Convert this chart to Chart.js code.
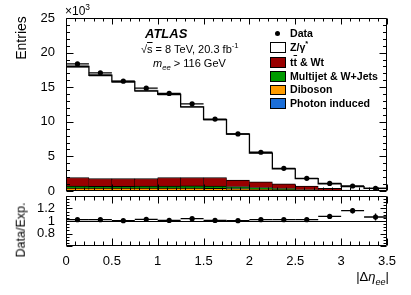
<!DOCTYPE html>
<html><head><meta charset="utf-8">
<script src="https://cdn.jsdelivr.net/npm/chart.js@4.4.0/dist/chart.umd.min.js"></script>
<style>
html,body{margin:0;padding:0;background:#fff;}
#wrap{position:relative;width:411px;height:295px;overflow:hidden;font-family:'Liberation Sans',Arial,Helvetica,sans-serif;color:#000;}
canvas{position:absolute;left:0;top:0;}
.t{position:absolute;white-space:nowrap;line-height:1;}
.t sup,.t sub{font-size:70%;line-height:0;}
.rot{position:absolute;white-space:nowrap;line-height:1;transform:translate(-50%,-50%) rotate(-90deg);}
.box{position:absolute;width:16px;height:10.5px;border:1px solid #000;box-sizing:border-box;}
.lg{position:absolute;font-weight:bold;font-size:10.6px;line-height:1;white-space:nowrap;}
</style></head><body>
<div id="wrap">
<canvas id="main" width="411" height="295"></canvas>
<canvas id="ratio" width="411" height="295"></canvas>

<div class="t" style="left:65px;top:5px;font-size:12px;">×10<sup>3</sup></div>
<div class="rot" style="left:21px;top:38px;font-size:14px;">Entries</div>
<div class="rot" style="left:21px;top:230px;font-size:12.5px;">Data/Exp.</div>
<div class="t" style="left:145px;top:26.5px;font-size:13px;font-weight:bold;font-style:italic;">ATLAS</div>
<div class="t" style="left:141px;top:44px;font-size:11px;">√<span style="text-decoration:overline">s</span> = 8 TeV, 20.3 fb<sup>-1</sup></div>
<div class="t" style="left:153px;top:58px;font-size:11px;"><i>m</i><sub><i>ee</i></sub> &gt; 116 GeV</div>
<div class="t" style="right:22px;top:270px;font-size:13px;">|Δ<i>η</i><sub><i>ee</i></sub>|</div>

<div id="legend"></div>
</div>
<script>
// ---------------- data ----------------
const binEdges = [0, 0.25, 0.5, 0.75, 1, 1.25, 1.5, 1.75, 2, 2.25, 2.5, 2.75, 3, 3.25, 3.5];
const dataCounts = [18370, 17080, 15870, 14860, 14100, 12600, 10400, 8250, 5600, 3270, 1830, 1100, 720, 390];
const dataErr    = [136, 131, 126, 122, 119, 112, 102, 91, 75, 57, 43, 33, 27, 20];
const zGamma        = [16040, 14930, 13990, 12670, 12010, 10200, 8350, 6630, 4140, 2150, 1070, 630, 470, 230];
const ttbarWt       = [1230, 1115, 1115, 1105, 1225, 1220, 1235, 945, 845, 705, 555, 305, 105, 110];
const multijetWJets = [290, 280, 280, 290, 310, 320, 330, 290, 220, 140, 40, 20, 10, 10];
const diboson       = [350, 330, 330, 330, 340, 340, 320, 290, 230, 170, 100, 50, 25, 15];
const photonInduced = [80, 75, 75, 75, 75, 70, 65, 55, 45, 35, 25, 15, 10, 5];
const mcTotal       = [17990, 16730, 15790, 14470, 13960, 12150, 10300, 8210, 5480, 3200, 1790, 1020, 620, 370];
const mcUnc         = [200, 185, 175, 160, 155, 135, 115, 92, 62, 36, 20, 12, 8, 5];
const ratioValues = [1.021, 1.021, 1.005, 1.027, 1.01, 1.037, 1.01, 1.005, 1.021, 1.021, 1.021, 1.074, 1.165, 1.064];
const ratioErr    = [0.008, 0.008, 0.008, 0.009, 0.009, 0.01, 0.011, 0.012, 0.015, 0.019, 0.025, 0.033, 0.045, 0.055];
const yTickLabelsMain = ['0','5','10','15','20','25'];
const seriesNames = ['Data', 'Z/γ*', 'tt̄ & Wt', 'Multijet & W+Jets', 'Diboson', 'Photon induced'];
const seriesColors = ['#000000', '#ffffff', '#990000', '#009a00', '#ff9c00', '#1b6ed8'];

// ---------------- helpers ----------------
const FONT = "'Liberation Sans', Arial, Helvetica, sans-serif";
const centers = binEdges.slice(0, -1).map((e, i) => (e + binEdges[i + 1]) / 2);
const halfW = binEdges.slice(0, -1).map((e, i) => (binEdges[i + 1] - e) / 2);
const stepPts = arr => binEdges.map((e, i) => ({x: e, y: arr[Math.min(i, arr.length - 1)]}));
const binPts = arr => centers.map((c, i) => ({x: c, y: arr[i]}));

const frame = {
  id: 'rootFrame',
  afterDraw(chart, args, o) {
    const {ctx, chartArea: a} = chart;
    const xs = chart.scales[o.x], ys = chart.scales[o.y];
    ctx.save();
    ctx.strokeStyle = '#000'; ctx.lineWidth = 1;
    const L = Math.round(a.left) + 0.5, R = Math.round(a.right) - 0.5, T = Math.round(a.top) + 0.5, B = Math.round(a.bottom) - 0.5;
    ctx.beginPath();
    ctx.rect(L, T, R - L, B - T);
    let n = Math.round((xs.max - xs.min) / o.xMinor);
    for (let i = 0; i <= n; i++) {
      const v = xs.min + i * o.xMinor;
      const maj = Math.abs(v / o.xMajor - Math.round(v / o.xMajor)) < 1e-6;
      const len = maj ? o.xMajLen : o.xMinLen;
      const px = Math.round(xs.getPixelForValue(v)) + 0.5;
      ctx.moveTo(px, B); ctx.lineTo(px, B - len);
      ctx.moveTo(px, T); ctx.lineTo(px, T + len);
    }
    n = Math.round((ys.max - ys.min) / o.yMinor);
    for (let i = 0; i <= n; i++) {
      const v = ys.min + i * o.yMinor;
      const maj = Math.abs(v / o.yMajor - Math.round(v / o.yMajor)) < 1e-6;
      const len = maj ? o.yMajLen : o.yMinLen;
      const py = Math.round(ys.getPixelForValue(v)) + 0.5;
      ctx.moveTo(L, py); ctx.lineTo(L + len, py);
      ctx.moveTo(R, py); ctx.lineTo(R - len, py);
    }
    ctx.stroke();
    if (o.refLine !== undefined) {
      const py = Math.round(ys.getPixelForValue(o.refLine)) + 0.5;
      ctx.beginPath(); ctx.moveTo(L, py); ctx.lineTo(R, py); ctx.stroke();
    }
    ctx.restore();
  }
};

const errBars = {
  id: 'errBars',
  afterDatasetsDraw(chart) {
    const ctx = chart.ctx;
    chart.data.datasets.forEach((ds, di) => {
      if (!ds.errY) return;
      const meta = chart.getDatasetMeta(di);
      const xs = chart.scales[meta.xAxisID], ys = chart.scales[meta.yAxisID];
      ctx.save(); ctx.strokeStyle = '#000'; ctx.lineWidth = 1.3;
      ds.data.forEach((p, i) => {
        const x0 = xs.getPixelForValue(p.x - ds.errX[i]), x1 = xs.getPixelForValue(p.x + ds.errX[i]);
        const x = xs.getPixelForValue(p.x), y = ys.getPixelForValue(p.y);
        const y0 = ys.getPixelForValue(p.y - ds.errY[i]), y1 = ys.getPixelForValue(p.y + ds.errY[i]);
        ctx.beginPath(); ctx.moveTo(x0, y); ctx.lineTo(x1, y); ctx.moveTo(x, y0); ctx.lineTo(x, y1); ctx.stroke();
      });
      ctx.restore();
    });
  }
};

const barBorder = {top: 1, left: 0.5, right: 0.5, bottom: 0};
function bars(label, data, color, border) {
  return {type: 'bar', label, data: binPts(data), backgroundColor: color, borderColor: '#000',
          borderWidth: border ? barBorder : 0, borderSkipped: false, stack: 'mc', order: 5,
          barPercentage: 1, categoryPercentage: 1};
}

// ---------------- main panel ----------------
new Chart(document.getElementById('main'), {
  type: 'bar',
  data: {
    datasets: [
      bars(seriesNames[5], photonInduced, seriesColors[5], true),
      bars(seriesNames[4], diboson, seriesColors[4], true),
      bars(seriesNames[3], multijetWJets, seriesColors[3], true),
      bars(seriesNames[2], ttbarWt, seriesColors[2], true),
      bars(seriesNames[1], zGamma, seriesColors[1], false),
      {type: 'line', label: 'unc lo', data: stepPts(mcTotal.map((v, i) => v - mcUnc[i])),
       stepped: true, borderWidth: 0, pointRadius: 0, fill: false, stack: 'lo', order: 3},
      {type: 'line', label: 'unc hi', data: stepPts(mcTotal.map((v, i) => v + mcUnc[i])),
       stepped: true, borderWidth: 0, pointRadius: 0, fill: '-1', backgroundColor: 'rgba(110,110,110,0.85)', stack: 'hi', order: 3},
      {type: 'line', label: 'Expected', data: stepPts(mcTotal),
       stepped: true, borderColor: '#000', borderWidth: 1.3, pointRadius: 0, fill: false, stack: 'tot', order: 2},
      {type: 'scatter', label: seriesNames[0], data: binPts(dataCounts),
       errX: halfW, errY: dataErr, pointRadius: 2.6, pointBackgroundColor: '#000',
       pointBorderWidth: 0, stack: 'data', order: 1}
    ]
  },
  options: {
    responsive: false, animation: false, devicePixelRatio: 1,
    layout: {padding: {left: 9, right: 24, top: 18, bottom: 104}},
    plugins: {legend: {display: false}, tooltip: {enabled: false},
      rootFrame: {x: 'x', y: 'y', xMinor: 0.1, xMajor: 0.5, xMajLen: 6, xMinLen: 3,
                  yMinor: 1000, yMajor: 5000, yMajLen: 7, yMinLen: 3.5}},
    scales: {
      x: {type: 'linear', position: 'bottom', min: 0, max: 3.5, offset: false, grid: {display: false}, border: {display: false},
          ticks: {display: false, stepSize: 0.5}, afterFit: s => { s.height = 0; }},
      y: {type: 'linear', min: 0, max: 25000, stacked: true, grid: {display: false}, border: {display: false},
          ticks: {stepSize: 5000, padding: 3, color: '#000', font: {family: FONT, size: 13}, autoSkip: false,
                  callback: v => yTickLabelsMain[Math.round(v / 5000)]},
          afterFit: s => { s.width = 57; }}
    }
  },
  plugins: [frame, errBars]
});

// ---------------- ratio panel ----------------
new Chart(document.getElementById('ratio'), {
  type: 'scatter',
  data: {
    datasets: [
      {label: 'Data/Exp.', data: binPts(ratioValues), errX: halfW, errY: ratioErr,
       pointRadius: 2.6, pointBackgroundColor: '#000', pointBorderWidth: 0}
    ]
  },
  options: {
    responsive: false, animation: false, devicePixelRatio: 1,
    layout: {padding: {left: 9, right: 24, top: 196, bottom: 19}},
    plugins: {legend: {display: false}, tooltip: {enabled: false},
      rootFrame: {x: 'x', y: 'y', xMinor: 0.1, xMajor: 0.5, xMajLen: 7, xMinLen: 4,
                  yMinor: 0.05, yMajor: 0.2, yMajLen: 6, yMinLen: 3, refLine: 1}},
    scales: {
      x: {type: 'linear', min: 0, max: 3.5, grid: {display: false}, border: {display: false},
          ticks: {stepSize: 0.5, padding: 0, color: '#000', font: {family: FONT, size: 13}, maxRotation: 0, autoSkip: false,
                  callback: v => String(Math.round(v * 10) / 10)},
          afterFit: s => { s.height = 30; }},
      y: {type: 'linear', min: 0.6, max: 1.4, grid: {display: false}, border: {display: false},
          ticks: {stepSize: 0.2, padding: 3, color: '#000', font: {family: FONT, size: 13}, autoSkip: false,
                  callback: v => (Math.abs(v - 0.6) < 1e-6 || Math.abs(v - 1.4) < 1e-6) ? '' : String(Math.round(v * 10) / 10)},
          afterFit: s => { s.width = 57; }}
    }
  },
  plugins: [frame, errBars]
});

// ---------------- legend ----------------
const legendRows = [29.3, 43.3, 58, 72.3, 85.7, 99];
const lg = document.getElementById('legend');
seriesNames.forEach((name, i) => {
  const top = legendRows[i];
  if (i === 0) {
    const d = document.createElement('div');
    d.style.cssText = `position:absolute;left:274.5px;top:${top + 1.3}px;width:5px;height:5px;border-radius:50%;background:#000;`;
    lg.appendChild(d);
  } else {
    const b = document.createElement('div');
    b.className = 'box';
    b.style.cssText = `left:270px;top:${top - 1}px;background:${seriesColors[i]};`;
    lg.appendChild(b);
  }
  const t = document.createElement('div');
  t.className = 'lg';
  t.style.left = '290px';
  t.style.top = (top - 1.4) + 'px';
  if (i === 1) t.innerHTML = 'Z/γ<sup style="font-size:70%;line-height:0">*</sup>';
  else if (i === 2) t.innerHTML = 't<span style="text-decoration:overline">t</span> &amp; Wt';
  else t.textContent = name;
  lg.appendChild(t);
});
</script>
</body></html>
